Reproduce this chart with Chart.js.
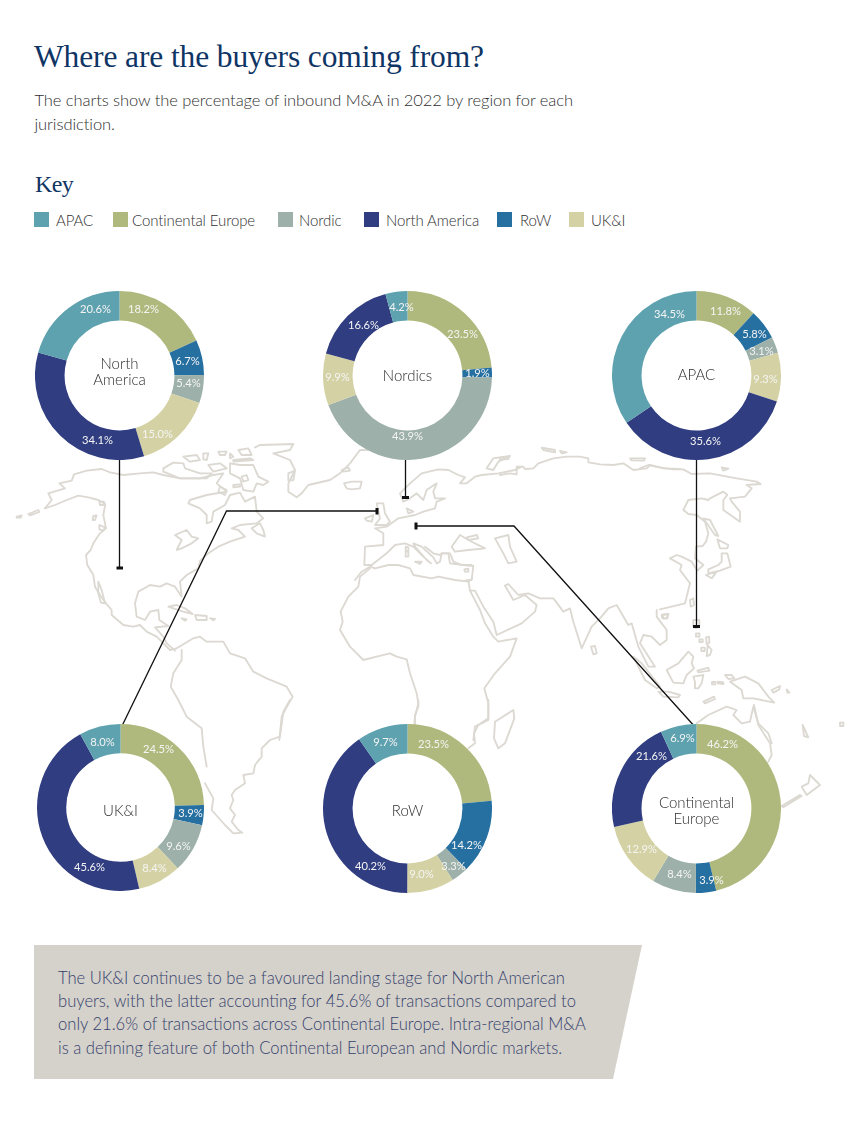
<!DOCTYPE html>
<html><head><meta charset="utf-8">
<script src="https://cdn.jsdelivr.net/npm/chart.js@4"></script>
<style>
html,body{margin:0;padding:0;background:#fff;}
#page{position:relative;width:850px;height:1142px;overflow:hidden;font-family:Lato,sans-serif;font-weight:300;color:#2f2f2f;}
.abs{position:absolute;white-space:nowrap;}
#title{left:34px;top:38px;font:400 31.5px/38px "Liberation Serif",serif;color:#0f3565;letter-spacing:-.12px;}
#sub{left:34.5px;top:89px;font-size:16.5px;line-height:23.5px;letter-spacing:-.07px;}
#key{left:35px;top:169px;font:400 24px/30px "Liberation Serif",serif;color:#0f3565;letter-spacing:-.6px;}
.sw{position:absolute;top:212px;width:15px;height:15px;}
.lg{position:absolute;top:210px;font-size:15px;line-height:20px;white-space:nowrap;letter-spacing:-.1px;}
#box{left:34px;top:945px;width:608px;height:134px;background:#d5d1cb;clip-path:polygon(0 0,100% 0,579px 100%,0 100%);}
#boxtext{left:58px;top:967px;font-size:16.6px;line-height:23.2px;color:#34426c;}
svg{position:absolute;left:0;top:0;}
.donut{position:absolute;background:#fff;border-radius:50%;}
</style></head><body>
<div id="page">
<div id="title" class="abs">Where are the buyers coming from?</div>
<div id="sub" class="abs">The charts show the percentage of inbound M&amp;A in 2022 by region for each<br>jurisdiction.</div>
<div id="key" class="abs">Key</div>
<div id="legend"></div>
<svg id="map" width="850" height="1142" viewBox="0 0 850 1142"></svg>
<div id="box" class="abs"></div>
<div id="boxtext" class="abs">The UK&amp;I continues to be a favoured landing stage for North American<br>buyers, with the latter accounting for 45.6% of transactions compared to<br>only 21.6% of transactions across Continental Europe. Intra-regional M&amp;A<br>is a defining feature of both Continental European and Nordic markets.</div>
</div>
<script>
// ---- data ----
const regions = ['Continental Europe','RoW','Nordic','UK&I','North America','APAC'];
const legendOrder = ['APAC','Continental Europe','Nordic','North America','RoW','UK&I'];
const regionColors = ['#b0b97d','#256fa1','#9db0a9','#d4d2a4','#303d80','#5fa2af'];
const northAmerica = [18.2,6.7,5.4,15.0,34.1,20.6];
const nordics      = [23.5,1.9,43.9,9.9,16.6,4.2];
const apac         = [11.8,5.8,3.1,9.3,35.6,34.5];
const ukAndI       = [24.5,3.9,9.6,8.4,45.6,8.0];
const row          = [23.5,14.2,3.3,9.0,40.2,9.7];
const contEurope   = [46.2,3.9,8.4,12.9,21.6,6.9];

// ---- layout (not data) ----
const legendSw = {'APAC':34,'Continental Europe':113,'Nordic':278,'North America':364,'RoW':497,'UK&I':569};
const legendTx = {'APAC':56,'Continental Europe':132,'Nordic':299,'North America':386,'RoW':520,'UK&I':591};
const charts = [
 {v:northAmerica,name:['North','America'],cx:119.5,cy:375.5,r:84.5,dy:-3,lab:[[24,-66],[68,-14],[69,8],[38,59],[-22,65],[-24,-66]]},
 {v:nordics,name:['Nordics'],cx:407.5,cy:375.5,r:84.5,dy:1,lab:[[55,-41],[70,-2],[0,61],[-70,2],[-44,-50],[-6,-68]]},
 {v:apac,name:['APAC'],cx:696.5,cy:375.5,r:84.5,dy:0,lab:[[29,-64],[58,-41],[65,-24],[69,4],[9,66],[-27,-61]]},
 {v:ukAndI,name:['UK&I'],cx:120.5,cy:807.5,r:83.5,dy:3.5,lab:[[38,-58],[70,6],[58,39],[34,61],[-31,60],[-18,-65]]},
 {v:row,name:['RoW'],cx:407.5,cy:808.5,r:84.5,dy:3,lab:[[26,-64],[59,37],[46,58],[14,66],[-37,58],[-22,-66]]},
 {v:contEurope,name:['Continental','Europe'],cx:696.5,cy:808.5,r:84.5,dy:3,lab:[[26,-64],[15,72],[-17,66],[-55,41],[-45,-52],[-14,-70]]}
];

// legend
const lg=document.getElementById('legend');
legendOrder.forEach(n=>{
  const s=document.createElement('div');s.className='sw';s.style.left=legendSw[n]+'px';
  s.style.background=regionColors[regions.indexOf(n)];lg.appendChild(s);
  const t=document.createElement('div');t.className='lg';t.style.left=legendTx[n]+'px';t.textContent=n;lg.appendChild(t);
});

// map: outlines traced in groups, each with an origin
const mapGroups=[
 {o:[0,440],s:[
 'M135,205 165,195 200,180 235,167 265,172 295,180 316,192 310,225 318,265 300,280 280,310 272,330 258,345 262,375 280,405 285,440 300,465 318,490 335,510 335,525 370,555 400,560 420,555 440,575 470,590 490,610 510,630 530,625',
 'M135,205 155,180 145,160 195,145 178,130 215,122 222,103 260,92 305,87 330,97 370,105 420,100 460,97 490,105 540,115 600,115 640,105 670,100 650,130 680,155 620,165 570,180 565,190 600,205 620,225 620,250 635,245 640,215 675,195 690,165 720,158 735,185 765,170 770,215 790,235 770,250 720,255 695,265 715,270 735,290 690,305 655,320 625,340 600,362 595,385 560,405 540,425 545,470 525,440 500,430 480,440 450,435 415,455 405,490 410,530 435,540 450,515 475,510 478,540 505,558 465,562 490,590 500,610 525,632',
 'M295,425 305,450 315,490 303,488 295,460Z','M50,230 65,226 62,233 50,233Z','M85,222 115,210 118,216 90,226Z','M280,228 290,226 285,240 278,240Z','M298,255 315,262 310,272 298,268Z','M298,185 312,185 310,195 300,195Z',
 'M490,85 520,68 550,70 555,85 600,100 635,100 620,115 540,115 490,95Z','M550,50 590,45 600,60 570,65Z','M610,40 625,40 620,60 610,58Z','M655,35 680,35 675,45 660,45Z','M690,40 700,50 690,55Z','M715,30 745,25 755,45 725,45Z','M700,60 750,55 760,60 700,65Z','M625,75 660,70 680,85 640,95Z','M690,70 720,75 760,75 775,110 805,125 790,135 770,130 760,155 730,150 720,115 690,100Z','M725,110 740,105 745,120 730,125Z','M700,135 720,133 720,140 700,142Z','M660,140 680,150 675,165 655,155Z',
 'M525,285 560,270 575,290 595,295 575,310 545,325 530,330 545,300Z',
 'M505,500 530,495 555,505 578,522 550,515 520,505Z','M585,525 620,528 620,540 590,540Z','M545,535 560,538 555,542Z','M630,535 645,537 640,541Z','M755,265 780,250 790,270 795,290 770,280Z',
 'M765,22 780,15 880,12 870,30 820,40 870,60 885,90 865,130 865,155 890,172 905,160 925,135 990,120 1020,100 1050,70 1080,30 1110,30','M865,100 885,92 880,120 865,122Z','M1025,90 1045,82 1050,92 1030,95Z','M1032,130 1055,125 1085,125 1080,145 1055,148 1040,145Z',
 'M545,630 545,660 520,700 512,740 535,780 560,830 605,865 610,920 620,980',
 'M530,625 580,595 600,590 620,605 670,605 690,640 735,655 760,695 800,715 860,740 878,770 855,810 845,830 838,900',
 'M1110,385 1080,410 1075,440 1045,470 1022,515 1028,545 1020,570 1050,620 1090,660 1130,650 1170,640 1190,650 1220,658 1230,700 1250,760 1255,790 1245,830 1245,860 1260,870'
 ]},
 {o:[180,700],s:[
 'M330,0 310,35 300,110 270,120 245,145 245,170 225,195 220,220 190,225 195,250 165,270 155,285 160,300 150,325 165,345 155,365 175,390 187,398 160,400 135,375 95,330 100,295 75,250',
 'M715,0 715,20 705,45 703,72','M865,145 885,130 882,100 895,75 925,55 925,0','M945,65 1000,30 1003,55 975,130 955,145 942,115Z'
 ]},
 {o:[355,450],s:[
 'M0,390 20,365 45,350 60,355 100,345 130,345 165,355 175,375 230,385 250,380 300,390 340,395 352,385',
 'M50,345 28,345 30,290 85,285 85,250 60,235 95,230 130,205 180,195 205,185 240,175 245,155 270,145 240,145 235,125 245,100 215,120 205,150 185,130 165,145 145,155 135,130 165,100 200,70 250,58 280,60 310,75 330,82 315,100 335,100 360,80 380,75 430,70 480,60 500,50',
 'M50,345 95,310 120,285 150,280 175,290 205,320 228,340 215,330 180,290 175,280 200,290 235,322 245,340 255,335 260,310 285,310 295,335 320,345 350,345',
 'M155,175 175,185 160,190Z','M65,160 85,160 90,190 105,215 95,225 60,225 75,205Z','M30,205 55,195 50,215 35,212Z','M152,290 160,292 160,303 152,303Z','M152,305 160,305 160,320 152,320Z','M180,335 200,335 195,342Z',
 'M395,55 415,25 465,18 430,35 415,60Z','M290,290 315,255 340,270 370,265 365,255 335,262 340,270 390,295 340,300 300,305Z','M420,265 460,255 465,290 485,335 460,340 445,310Z'
 ]},
 {o:[500,445],s:[
 'M0,90 30,85 50,88 50,65 70,65 75,72 100,70 115,55 160,40 200,35 240,35 265,40 265,52 300,58 340,60 370,55 400,75 440,70 450,60 490,70 540,72',
 'M390,40 435,40 432,47 395,46Z','M125,8 165,15 165,22 130,15Z','M180,18 200,22 185,25Z','M0,38 28,35 25,42 0,44Z'
 ]},
 {o:[640,450],s:[
 'M0,55 25,45 60,52 100,58 130,58 155,72 210,70 290,85 350,95 362,102 320,105 335,115 315,140 270,145 275,155 300,185 300,215 250,180 250,150 262,135 250,125 210,145 205,150 185,145 145,150 130,180 145,192 170,195 195,215 205,250 198,275 188,288 168,290 165,325 190,345 172,362 155,335 125,320 110,315 90,325 125,345 120,360 150,400 135,460 60,478',
 'M190,205 210,210 235,258 225,255Z','M232,268 265,285 262,295 240,295Z','M245,310 262,310 272,350 240,362 205,370 205,358 235,345 245,335Z','M198,375 230,365 215,385Z','M245,52 265,56 250,62Z','M150,450 160,445 162,465 152,470Z'
 ]},
 {o:[425,440],s:[
 'M695,510 695,530 725,570 725,600 705,615 680,590 655,585 645,610 690,680 670,680 640,620 620,550 610,555 575,495 550,505 525,535 500,560 470,625 445,545 435,505 415,515 385,475 345,475 310,460 280,465 250,432 240,437 265,480 300,465 335,495 330,515 290,550 215,585 205,545 175,500 150,452 135,452 165,510 180,550 205,590 220,605 275,595 255,650 210,700 178,745 190,790 190,840 150,860 145,900',
 'M0,320 25,340 45,345 50,340 70,340 75,370 115,375 145,378 140,420 120,422 130,420 135,452','M118,388 130,386 130,395 120,395Z','M710,525 730,522 725,535 712,535Z','M498,620 510,618 515,640 505,643Z','M625,650 650,670 705,740 695,745 660,720 640,680Z','M700,755 730,755 765,765 760,772 715,770Z',
 'M815,850 850,825 905,800 935,810 925,825 950,850 975,845 985,800 1000,850 1030,880 1040,910'
 ]},
 {o:[640,600],s:[
 'M80,210 115,190 145,155 160,170 155,190 162,205 140,225 130,250 100,248Z','M160,230 190,225 185,250 175,265 165,265 165,245Z','M190,305 222,290 225,297 195,310Z','M172,212 205,203 208,212 175,217Z','M216,246 226,246 226,253 216,253Z','M233,245 250,247 250,252 233,250Z',
 'M270,245 315,230 355,250 385,290 403,308 340,295 310,295 305,270Z','M255,225 275,225 283,235 265,237Z','M395,270 420,258 418,268 400,278Z','M440,268 448,278 442,278Z',
 'M160,60 178,60 178,78 168,85 160,80Z','M168,100 178,100 178,110 168,110Z','M178,118 188,118 188,126 178,126Z','M198,112 207,110 208,128 200,132Z','M184,143 194,143 194,153 184,153Z','M203,135 215,150 210,165 200,168Z','M68,44 85,42 82,55 70,55Z'
 ]},
 {o:[600,680],s:[
 'M462,75 475,135 510,190 515,225 505,245','M545,378 600,345 605,348 550,382Z','M630,285 660,315 620,345 605,320 625,310Z','M608,135 625,172 612,168Z','M720,128 730,128 730,138 720,138Z'
 ]}
];
const svg=document.getElementById('map');
const NS='http://www.w3.org/2000/svg';
mapGroups.forEach(g=>{
  const e=document.createElementNS(NS,'g');
  e.setAttribute('transform',`translate(${g.o[0]},${g.o[1]}) scale(${1/3})`);
  e.setAttribute('fill','none');e.setAttribute('stroke','#dcd8d2');e.setAttribute('stroke-width','5.5');
  e.setAttribute('stroke-linejoin','round');e.setAttribute('stroke-linecap','round');
  g.s.forEach(d=>{const p=document.createElementNS(NS,'path');p.setAttribute('d',d.replace(/M(\S+) /,'M$1 L'));e.appendChild(p);});
  svg.appendChild(e);
});
// connector lines
const conn=[
 ['M119.5,455V568','M116.5,568H123'],
 ['M405.5,455V497','M402,497.5H409'],
 ['M696.5,455V626','M693,626.5H700'],
 ['M121,728L226.5,511H377','M377,508V514.5'],
 ['M696,728L514,526H416','M416,522.5V529.5']
];
conn.forEach(c=>{
  const l=document.createElementNS(NS,'path');l.setAttribute('d',c[0]);l.setAttribute('fill','none');l.setAttribute('stroke','#111');l.setAttribute('stroke-width','1.3');svg.appendChild(l);
  const t=document.createElementNS(NS,'path');t.setAttribute('d',c[1]);t.setAttribute('stroke','#111');t.setAttribute('stroke-width','3');svg.appendChild(t);
});

// donuts
const labelPlugin={id:'lab',afterDraw(ch,a,o){
  const c=ch.ctx,cx=ch.width/2,cy=ch.height/2;
  c.save();c.textAlign='center';c.textBaseline='middle';
  c.font='400 11.2px Lato,sans-serif';c.fillStyle='#f4f4f4';
  ch.data.datasets[0].data.forEach((v,i)=>{const p=o.lab[i];c.fillText(v.toFixed(1)+'%',cx+p[0],cy+p[1]);});
  c.font='300 15px Lato,sans-serif';c.fillStyle='#2e2e2e';
  const n=o.name,lh=16.2;
  n.forEach((t,i)=>c.fillText(t,cx,cy+o.dy+(i-(n.length-1)/2)*lh));
  c.restore();
}};
const page=document.getElementById('page');
charts.forEach(cfg=>{
  const d=document.createElement('div');d.className='donut';
  const sz=cfg.r*2;
  d.style.left=(cfg.cx-cfg.r)+'px';d.style.top=(cfg.cy-cfg.r)+'px';d.style.width=sz+'px';d.style.height=sz+'px';
  const cv=document.createElement('canvas');cv.width=Math.round(sz);cv.height=Math.round(sz);d.appendChild(cv);page.appendChild(d);
  new Chart(cv,{type:'doughnut',plugins:[labelPlugin],data:{labels:regions,datasets:[{data:cfg.v,backgroundColor:regionColors,borderWidth:0}]},
   options:{responsive:false,animation:false,cutout:'65%',layout:{padding:0},
    plugins:{legend:{display:false},tooltip:{enabled:false},lab:{lab:cfg.lab,name:cfg.name,dy:cfg.dy}}}});
});
</script>
</body></html>
